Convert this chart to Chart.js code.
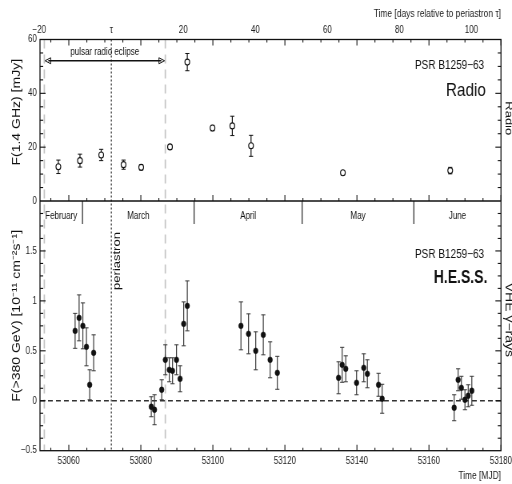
<!DOCTYPE html>
<html>
<head>
<meta charset="utf-8">
<script src="https://cdn.jsdelivr.net/npm/chart.js@4.4.1/dist/chart.umd.min.js"></script>
<style>
html,body{margin:0;padding:0;background:#fff;width:512px;height:484px;overflow:hidden;}
#wrap{position:absolute;left:0;top:0;width:640px;height:484px;transform:scaleX(0.8);transform-origin:0 0;}
</style>
</head>
<body>
<div id="wrap"><canvas id="c" width="640" height="484"></canvas></div>
<script>
// ---------- data ----------
const TAU = 53071.8;               // periastron (MJD)
const X_MIN = 53052, X_MAX = 53180;
const MJD_TICKS = [53060, 53080, 53100, 53120, 53140, 53160, 53180];
const DAY_TICKS = [-20, 0, 20, 40, 60, 80, 100];
const RADIO_TICKS = [0, 20, 40, 60];
const HESS_TICKS = [-0.5, 0, 0.5, 1, 1.5];
const ECLIPSE = [53053.2, 53086.8];
const MONTHS = ['February', 'March', 'April', 'May', 'June'];
const MONTH_STARTS = [53063.8, 53094.8, 53124.8, 53155.8];

// radio: days relative to periastron, flux (mJy), error
const RADIO_DAY  = [-14.7, -8.7, -2.8, 3.4, 8.3, 16.3, 21.1, 28.1, 33.6, 38.8, 64.3, 94.1];
const RADIO_FLUX = [12.7, 15.0, 17.1, 13.5, 12.5, 20.1, 51.6, 27.1, 27.9, 20.5, 10.5, 11.3];
const RADIO_ERR  = [2.5, 2.4, 2.1, 1.7, 1.0, 0.8, 3.2, 1.0, 3.6, 3.9, 0.7, 1.2];

// H.E.S.S.: MJD, flux (1e-11 cm^-2 s^-1), error
const HESS_MJD = [53061.75, 53062.86, 53063.9, 53064.9, 53065.8, 53066.9,
                  53082.9, 53083.8, 53085.8, 53086.8, 53087.9, 53088.8, 53089.9, 53090.9, 53091.9, 53092.9,
                  53107.8, 53109.9, 53111.9, 53114.0, 53115.9, 53117.9,
                  53134.9, 53135.9, 53136.9, 53139.9, 53141.9, 53142.9, 53146.0, 53147.0,
                  53167.0, 53168.1, 53169.0, 53170.0, 53170.9, 53171.9];
const HESS_FLUX = [0.70, 0.83, 0.75, 0.54, 0.16, 0.48,
                   -0.06, -0.09, 0.11, 0.41, 0.31, 0.30, 0.41, 0.22, 0.77, 0.95,
                   0.75, 0.67, 0.50, 0.66, 0.41, 0.28,
                   0.23, 0.36, 0.32, 0.18, 0.33, 0.27, 0.16, 0.02,
                   -0.07, 0.21, 0.13, 0.01, 0.05, 0.10];
const HESS_ERR = [0.175, 0.23, 0.23, 0.19, 0.15, 0.18,
                  0.10, 0.15, 0.10, 0.15, 0.12, 0.13, 0.15, 0.13, 0.22, 0.25,
                  0.24, 0.20, 0.19, 0.20, 0.18, 0.165,
                  0.16, 0.175, 0.13, 0.12, 0.14, 0.14, 0.115, 0.145,
                  0.13, 0.11, 0.115, 0.10, 0.11, 0.145];

// ---------- helpers ----------
const SANS = "'Liberation Sans', Arial, Helvetica, sans-serif";
const minus = v => (v < 0 ? '\u2212' + Math.abs(v) : String(v));
const setTicks = arr => scale => { scale.ticks = arr.map(v => ({ value: v })); };

const radioData = RADIO_DAY.map((d, i) => ({ x: d + TAU, y: RADIO_FLUX[i], e: RADIO_ERR[i] }));
const hessData = HESS_MJD.map((m, i) => ({ x: m, y: HESS_FLUX[i], e: HESS_ERR[i] }));

function seg(ctx, x1, y1, x2, y2) { ctx.beginPath(); ctx.moveTo(x1, y1); ctx.lineTo(x2, y2); ctx.stroke(); }

const deco = {
  id: 'deco',
  beforeDatasetsDraw(chart) {
    const { ctx, chartArea: a, scales: { x, yH } } = chart;
    ctx.save();
    ctx.strokeStyle = '#c4c4c4'; ctx.lineWidth = 1.7; ctx.setLineDash([9, 6]);
    ECLIPSE.forEach(m => { const px = x.getPixelForValue(m); seg(ctx, px, a.top, px, a.bottom); });
    ctx.strokeStyle = '#111'; ctx.lineWidth = 1.1; ctx.setLineDash([2, 2]);
    const tp = x.getPixelForValue(TAU); seg(ctx, tp, a.top, tp, a.bottom);
    ctx.strokeStyle = '#333'; ctx.lineWidth = 1.3; ctx.setLineDash([6, 4]);
    const y0 = yH.getPixelForValue(0); seg(ctx, a.left, y0, a.right, y0);
    ctx.setLineDash([]);
    chart.data.datasets.forEach(ds => {
      const ys = chart.scales[ds.yAxisID];
      ctx.strokeStyle = ds.yAxisID === 'yH' ? '#3a3a3a' : '#111';
      const cap = 2.6;
      ds.data.forEach(p => {
        const px = x.getPixelForValue(p.x);
        const t = ys.getPixelForValue(p.y + p.e), b = ys.getPixelForValue(p.y - p.e);
        ctx.lineWidth = 1.2;
        seg(ctx, px, t, px, b);
        ctx.lineWidth = 1;
        seg(ctx, px - cap, t, px + cap, t);
        seg(ctx, px - cap, b, px + cap, b);
      });
    });
    ctx.restore();
  },
  afterDatasetsDraw(chart) {
    const { ctx, chartArea: a, scales: { x, yR, yH } } = chart;
    ctx.save();
    ctx.strokeStyle = '#111';
    // frame & separator
    ctx.lineWidth = 1.3;
    ctx.strokeRect(a.left, a.top, a.right - a.left, a.bottom - a.top);
    ctx.lineWidth = 1.7;
    seg(ctx, a.left, yR.bottom, a.right, yR.bottom);
    // inward ticks
    ctx.lineWidth = 1.1;
    for (let m = 53055; m <= X_MAX; m += 5) {
      const px = x.getPixelForValue(m), L = (m % 20 === 0) ? 6 : 3;
      seg(ctx, px, a.top, px, a.top + L);
      seg(ctx, px, yR.bottom, px, yR.bottom - L);
      seg(ctx, px, a.bottom, px, a.bottom - L);
    }
    for (let v = 5; v < 60; v += 5) {
      const py = yR.getPixelForValue(v), L = (v % 20 === 0) ? 7 : 4;
      seg(ctx, a.left, py, a.left + L, py);
      seg(ctx, a.right, py, a.right - L, py);
    }
    for (let k = -3; k < 16; k++) {
      const v = k * 0.125, py = yH.getPixelForValue(v), L = (k % 4 === 0) ? 7 : 4;
      seg(ctx, a.left, py, a.left + L, py);
      seg(ctx, a.right, py, a.right - L, py);
    }
    // months
    const bounds = [X_MIN].concat(MONTH_STARTS, [X_MAX]);
    ctx.lineWidth = 1.1;
    MONTH_STARTS.forEach(m => { const px = x.getPixelForValue(m); seg(ctx, px, yH.top, px, yH.top + 23); });
    ctx.fillStyle = '#111'; ctx.textAlign = 'center'; ctx.textBaseline = 'middle';
    ctx.font = '10px ' + SANS;
    MONTHS.forEach((name, i) => {
      const px = (x.getPixelForValue(bounds[i]) + x.getPixelForValue(bounds[i + 1])) / 2;
      ctx.fillText(name, px, yH.top + 15);
    });
    // eclipse arrow
    const e1 = x.getPixelForValue(ECLIPSE[0]), e2 = x.getPixelForValue(ECLIPSE[1]);
    const ay = yR.getPixelForValue(52.1);
    ctx.lineWidth = 1.3;
    seg(ctx, e1 + 5, ay, e2 - 5, ay);
    ctx.lineWidth = 1;
    ctx.beginPath(); ctx.moveTo(e1 + 1, ay); ctx.lineTo(e1 + 8, ay - 3); ctx.lineTo(e1 + 8, ay + 3); ctx.closePath(); ctx.stroke();
    ctx.beginPath(); ctx.moveTo(e2 - 1, ay); ctx.lineTo(e2 - 8, ay - 3); ctx.lineTo(e2 - 8, ay + 3); ctx.closePath(); ctx.stroke();
    ctx.font = '10px ' + SANS;
    ctx.fillText('pulsar radio eclipse', (e1 + e2) / 2, ay - 9);
    // panel labels
    ctx.textAlign = 'right';
    ctx.font = '12.5px ' + SANS;
    ctx.fillText('PSR B1259\u221263', a.right - 21, yR.top + 26);
    ctx.fillText('PSR B1259\u221263', a.right - 21, yH.top + 54);
    ctx.font = '19px ' + SANS;
    ctx.fillText('Radio', a.right - 19, yR.top + 51);
    ctx.font = 'bold 17.5px ' + SANS;
    ctx.fillText('H.E.S.S.', a.right - 17, yH.top + 77);
    // rotated texts
    const rot = (txt, px, py, ang, font) => {
      ctx.save(); ctx.translate(px, py); ctx.rotate(ang); ctx.font = font;
      ctx.textAlign = 'center'; ctx.textBaseline = 'middle'; ctx.fillText(txt, 0, 0); ctx.restore();
    };
    const tp = x.getPixelForValue(TAU);
    rot('periastron', tp + 7, yH.top + 60, -Math.PI / 2, '13px ' + SANS);
    rot('F(1.4 GHz) [mJy]', 21, (yR.top + yR.bottom) / 2 - 8, -Math.PI / 2, '14px ' + SANS);
    rot('F(>380 GeV) [10\u207B\u00B9\u00B9 cm\u207B\u00B2s\u207B\u00B9]', 21, (yH.top + yH.bottom) / 2 - 10, -Math.PI / 2, '14px ' + SANS);
    rot('Radio', a.right + 9.5, (yR.top + yR.bottom) / 2 - 2, Math.PI / 2, '13px ' + SANS);
    rot('VHE \u03B3\u2212rays', a.right + 9.5, (yH.top + yH.bottom) / 2 - 6, Math.PI / 2, '14px ' + SANS);
    ctx.restore();
  }
};

const tickFont = { family: SANS, size: 10 };
const noPad = s => { s.paddingLeft = 0; s.paddingRight = 0; };

new Chart(document.getElementById('c'), {
  type: 'scatter',
  data: {
    datasets: [
      { label: 'Radio', data: radioData, xAxisID: 'x', yAxisID: 'yR',
        pointRadius: 3, pointBackgroundColor: '#fff', pointBorderColor: '#111', pointBorderWidth: 1.1 },
      { label: 'H.E.S.S.', data: hessData, xAxisID: 'x', yAxisID: 'yH',
        pointRadius: 2.9, pointBackgroundColor: '#111', pointBorderColor: '#111', pointBorderWidth: 0.5 }
    ]
  },
  options: {
    responsive: false,
    animation: false,
    devicePixelRatio: 1,
    layout: { padding: { right: 13.75 } },
    plugins: { legend: { display: false }, tooltip: { enabled: false } },
    scales: {
      x: {
        type: 'linear', position: 'bottom', min: X_MIN, max: X_MAX,
        afterBuildTicks: setTicks(MJD_TICKS),
        afterFit: s => { s.height = 33.3; noPad(s); },
        grid: { display: false, drawTicks: false }, border: { display: false },
        ticks: { font: tickFont, color: '#222', padding: 5, callback: v => String(v) },
        title: { display: true, text: 'Time [MJD]', align: 'end', font: { family: SANS, size: 10.5 }, color: '#222', padding: { top: 0, bottom: 2 } }
      },
      x2: {
        type: 'linear', position: 'top', min: X_MIN - TAU, max: X_MAX - TAU,
        afterBuildTicks: setTicks(DAY_TICKS),
        afterFit: s => { s.height = 39.5; noPad(s); },
        grid: { display: false, drawTicks: false }, border: { display: false },
        ticks: { font: tickFont, color: '#222', padding: 3, callback: v => (v === 0 ? '\u03C4' : minus(v)) },
        title: { display: true, text: 'Time [days relative to periastron \u03C4]', align: 'end', font: { family: SANS, size: 10.5 }, color: '#222', padding: { top: 8, bottom: 0 } }
      },
      yH: {
        type: 'linear', position: 'left', stack: 'panels', stackWeight: 249.7, min: -0.5, max: 2.0,
        afterBuildTicks: setTicks(HESS_TICKS),
        afterFit: s => { s.width = 50; s.paddingTop = 0; s.paddingBottom = 0; },
        grid: { display: false, drawTicks: false }, border: { display: false },
        ticks: { font: tickFont, color: '#222', padding: 4, callback: v => minus(v) }
      },
      yR: {
        type: 'linear', position: 'left', stack: 'panels', stackWeight: 161.5, min: 0, max: 60,
        afterBuildTicks: setTicks(RADIO_TICKS),
        afterFit: s => { s.width = 50; s.paddingTop = 0; s.paddingBottom = 0; },
        grid: { display: false, drawTicks: false }, border: { display: false },
        ticks: { font: tickFont, color: '#222', padding: 4, callback: v => String(v) }
      }
    }
  },
  plugins: [deco]
});
</script>
</body>
</html>
